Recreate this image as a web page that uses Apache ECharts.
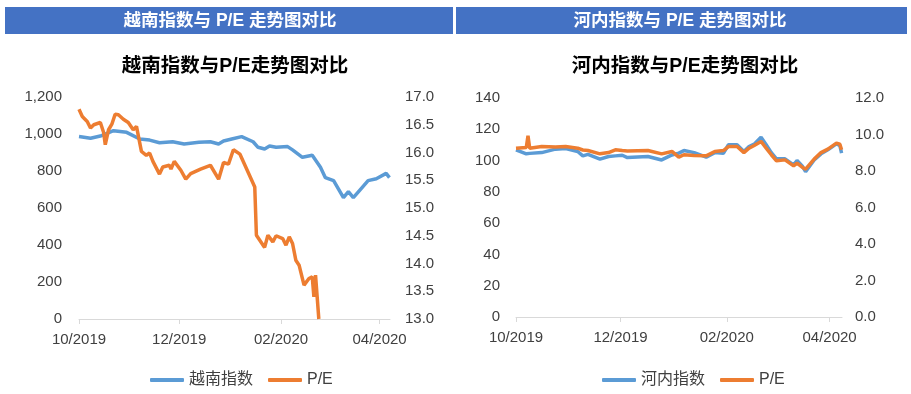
<!DOCTYPE html>
<html>
<head>
<meta charset="utf-8">
<script src="https://cdn.jsdelivr.net/npm/echarts@6/dist/echarts.min.js"></script>
<style>
html,body{margin:0;padding:0;background:#fff;}
#c{width:911px;height:394px;}
</style>
</head>
<body>
<div id="c"></div>
<script>
// ---- Left chart: 越南指数 ----
const vnIndexDates = ['2019-10-01','2019-10-08','2019-10-14','2019-10-22','2019-10-30','2019-11-07','2019-11-13','2019-11-19','2019-11-27','2019-12-04','2019-12-13','2019-12-20','2019-12-25','2019-12-28','2020-01-02','2020-01-08','2020-01-15','2020-01-18','2020-01-22','2020-01-25','2020-01-29','2020-02-05','2020-02-08','2020-02-14','2020-02-20','2020-02-25','2020-02-28','2020-03-04','2020-03-10','2020-03-13','2020-03-16','2020-03-20','2020-03-25','2020-03-30','2020-04-05','2020-04-07'];
const vnIndexValues = [986,977,989,1018,1009,973,967,953,958,946,955,958,946,962,973,986,958,928,919,935,928,932,914,874,885,820,764,748,656,688,656,697,748,758,787,764];

const vnPeDates = ['2019-10-01','2019-10-03','2019-10-06','2019-10-08','2019-10-10','2019-10-14','2019-10-16','2019-10-17','2019-10-19','2019-10-21','2019-10-23','2019-10-25','2019-10-28','2019-10-31','2019-11-03','2019-11-05','2019-11-08','2019-11-11','2019-11-13','2019-11-15','2019-11-19','2019-11-21','2019-11-25','2019-11-26','2019-11-28','2019-12-02','2019-12-05','2019-12-08','2019-12-14','2019-12-20','2019-12-25','2019-12-28','2019-12-31','2020-01-03','2020-01-07','2020-01-16','2020-01-17','2020-01-22','2020-01-24','2020-01-27','2020-01-29','2020-02-02','2020-02-04','2020-02-06','2020-02-08','2020-02-10','2020-02-12','2020-02-13','2020-02-15','2020-02-18','2020-02-20','2020-02-21','2020-02-22','2020-02-24'];
const vnPeValues = [16.78,16.65,16.56,16.44,16.50,16.54,16.36,16.14,16.41,16.51,16.69,16.68,16.60,16.54,16.41,16.47,16.02,15.95,15.99,15.84,15.61,15.74,15.77,15.70,15.84,15.68,15.52,15.62,15.70,15.77,15.52,15.82,15.79,16.05,15.97,15.38,14.51,14.29,14.51,14.39,14.50,14.45,14.33,14.48,14.36,14.06,13.97,13.85,13.61,13.73,13.76,13.40,13.79,13.00];

// ---- Right chart: 河内指数 ----
const hnDates = ['2019-10-01','2019-10-07','2019-10-08','2019-10-09','2019-10-16','2019-10-24','2019-10-30','2019-11-06','2019-11-09','2019-11-12','2019-11-19','2019-11-24','2019-11-28','2019-12-02','2019-12-05','2019-12-17','2019-12-25','2019-12-31','2020-01-04','2020-01-07','2020-01-13','2020-01-20','2020-01-25','2020-01-30','2020-02-02','2020-02-07','2020-02-11','2020-02-14','2020-02-17','2020-02-21','2020-02-24','2020-02-27','2020-03-01','2020-03-06','2020-03-11','2020-03-13','2020-03-16','2020-03-18','2020-03-23','2020-03-27','2020-03-31','2020-04-05','2020-04-07','2020-04-08'];
const hnIndexValues = [106.9,104.3,104.5,104.6,105.1,107.3,107.7,105.8,103.0,104.0,100.9,102.6,103.0,103.4,101.9,102.6,100.4,103.6,104.8,106.4,105.1,102.2,105.1,104.7,110.1,110.1,105.8,109.0,110.5,115.0,110.1,105.1,101.1,101.1,97.2,100.0,96.6,92.9,100.4,104.3,106.9,110.7,109.6,104.7];
const hnPeValues = [9.25,9.29,9.93,9.25,9.34,9.31,9.34,9.25,9.15,9.12,8.94,9.01,9.16,9.12,9.10,9.12,8.94,9.07,8.76,8.89,8.85,8.83,9.07,9.12,9.34,9.34,9.01,9.25,9.40,9.62,9.25,8.89,8.56,8.61,8.28,8.43,8.21,8.10,8.65,9.01,9.20,9.53,9.47,9.16];

const xTickDates = ['2019-10-01','2019-12-01','2020-02-01','2020-04-01'];

function ts(s){const p=s.split('-').map(Number);return new Date(p[0],p[1]-1,p[2]).getTime();}
function pairs(d,v){return d.map((x,i)=>[ts(x),v[i]]);}
const tickTs = xTickDates.map(ts);
const FONT = "'Liberation Sans','Noto Sans CJK SC',sans-serif";
const BLUE = '#5B9BD5', ORANGE = '#ED7D31';
const TXT = '#404040';

function xAxis(gi, maxTs){
  return {
    type:'value', gridIndex:gi, min:ts('2019-10-01'), max:maxTs, scale:true,
    axisLine:{show:true,lineStyle:{color:'#D9D9D9',width:1}},
    axisTick:{show:true,length:5,lineStyle:{color:'#D9D9D9'},customValues:tickTs},
    axisLabel:{customValues:tickTs,fontSize:15,fontFamily:FONT,color:TXT,margin:13,showMinLabel:true,showMaxLabel:true,hideOverlap:false,
      formatter:function(v){const d=new Date(v);const m=d.getMonth()+1;return (m<10?'0':'')+m+'/'+d.getFullYear();}},
    splitLine:{show:false}
  };
}
function yAxis(gi,min,max,interval,pos,margin,fmt){
  return {type:'value',gridIndex:gi,min:min,max:max,interval:interval,position:pos,
    axisLine:{show:false},axisTick:{show:false},splitLine:{show:false},
    axisLabel:{fontSize:15,fontFamily:FONT,color:TXT,margin:margin,formatter:fmt}};
}
const commas = v=>String(v).replace(/\B(?=(\d{3})+(?!\d))/g, ',');
const oneDec = v=>v.toFixed(1);

const chart = echarts.init(document.getElementById('c'));
chart.setOption({
  animation:false,
  backgroundColor:'#fff',
  graphic:[
    {type:'rect',shape:{x:5,y:7,width:448,height:27},style:{fill:'#4472C4'}},
    {type:'rect',shape:{x:456,y:7,width:451,height:27},style:{fill:'#4472C4'}},
    {type:'text',x:230,y:21,style:{text:'越南指数与 P/E 走势图对比',align:'center',verticalAlign:'middle',fill:'#fff',font:"bold 17.5px 'Liberation Sans','Noto Sans CJK SC',sans-serif"}},
    {type:'text',x:680,y:21,style:{text:'河内指数与 P/E 走势图对比',align:'center',verticalAlign:'middle',fill:'#fff',font:"bold 17.5px 'Liberation Sans','Noto Sans CJK SC',sans-serif"}}
  ],
  title:[
    {text:'越南指数与P/E走势图对比',left:230,textAlign:'center',top:52,textStyle:{fontSize:19.5,fontWeight:'bold',color:'#000',fontFamily:FONT}},
    {text:'河内指数与P/E走势图对比',left:680,textAlign:'center',top:52,textStyle:{fontSize:19.5,fontWeight:'bold',color:'#000',fontFamily:FONT}}
  ],
  legend:[
    {data:['越南指数','P/E'],left:145,top:367,icon:'roundRect',itemWidth:34,itemHeight:4,itemGap:15,
     textStyle:{fontSize:16,fontFamily:FONT,color:TXT}},
    {data:['河内指数','P/E '],left:597,top:367,icon:'roundRect',itemWidth:34,itemHeight:4,itemGap:15,
     textStyle:{fontSize:16,fontFamily:FONT,color:TXT}}
  ],
  grid:[
    {left:79,width:311,top:97,height:222},
    {left:516,width:326,top:98,height:219}
  ],
  xAxis:[xAxis(0,ts('2020-04-07')+8*3600e3), xAxis(1,ts('2020-04-08')+6*3600e3)],
  yAxis:[
    yAxis(0,0,1200,200,'left',17,commas),
    yAxis(0,13,17,0.5,'right',15,oneDec),
    yAxis(1,0,140,20,'left',16,v=>String(v)),
    yAxis(1,0,12,2,'right',13,oneDec)
  ],
  series:[
    {name:'越南指数',type:'line',xAxisIndex:0,yAxisIndex:0,data:pairs(vnIndexDates,vnIndexValues),showSymbol:false,symbol:'none',lineStyle:{width:3.5,color:BLUE},itemStyle:{color:BLUE}},
    {name:'P/E',type:'line',xAxisIndex:0,yAxisIndex:1,data:pairs(vnPeDates,vnPeValues),showSymbol:false,symbol:'none',lineStyle:{width:3.5,color:ORANGE},itemStyle:{color:ORANGE}},
    {name:'河内指数',type:'line',xAxisIndex:1,yAxisIndex:2,data:pairs(hnDates,hnIndexValues),showSymbol:false,symbol:'none',lineStyle:{width:3.5,color:BLUE},itemStyle:{color:BLUE}},
    {name:'P/E ',type:'line',xAxisIndex:1,yAxisIndex:3,data:pairs(hnDates,hnPeValues),showSymbol:false,symbol:'none',lineStyle:{width:3.5,color:ORANGE},itemStyle:{color:ORANGE}}
  ]
});
</script>
</body>
</html>
